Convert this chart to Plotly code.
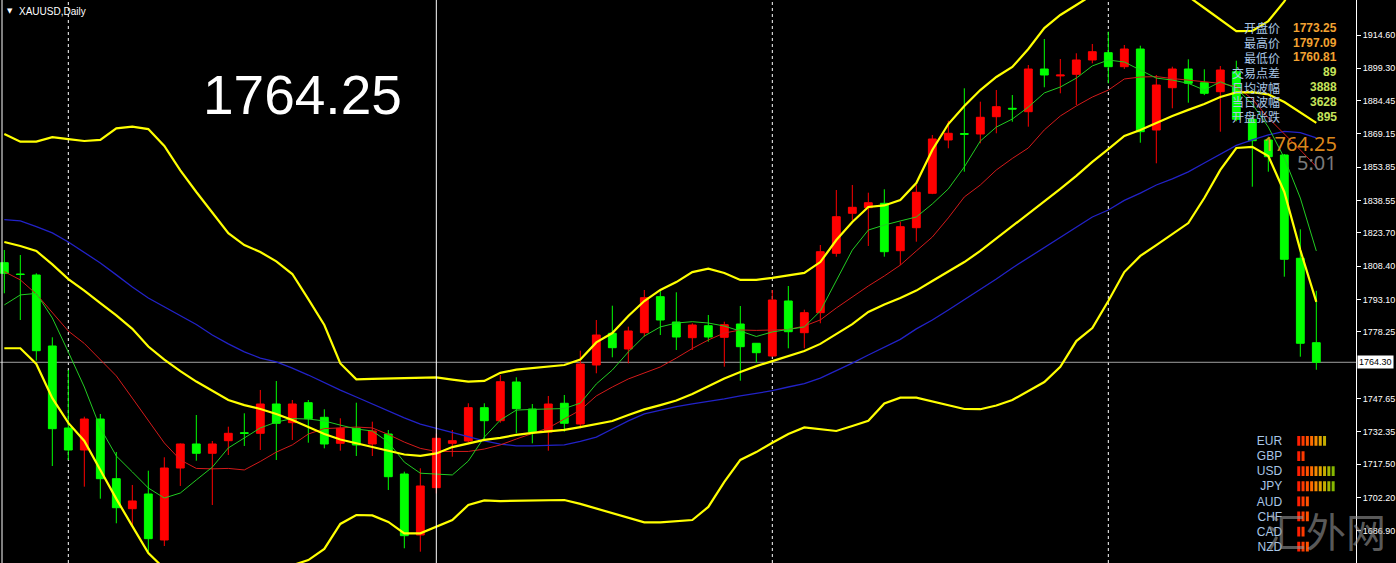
import plotly.graph_objects as go

# ---------------- data ----------------
bars = list(range(83))

open_ = [1810.00, 1804.80, 1804.35, 1771.74, 1734.07, 1723.96, 1738.20, 1710.78, 1697.00, 1703.75,
         1682.62, 1715.69, 1726.72, 1722.45, 1728.23, 1731.91, 1731.63, 1745.09, 1736.51, 1745.69,
         1738.98, 1727.04, 1733.93, 1726.72, 1731.31, 1712.94, 1684.92, 1706.65, 1727.04, 1728.10,
         1743.40, 1737.42, 1755.20, 1742.80, 1732.23, 1745.42, 1735.91, 1763.01, 1777.57, 1770.36,
         1777.85, 1794.39, 1782.76, 1775.55, 1781.06, 1775.73, 1781.84, 1772.98, 1767.14, 1792.41,
         1777.85, 1787.04, 1814.32, 1832.70, 1835.27, 1837.29, 1815.52, 1826.08, 1841.88, 1866.37,
         1869.30, 1869.12, 1877.07, 1880.93, 1879.37, 1898.98, 1895.80, 1896.55, 1903.12, 1906.47,
         1900.04, 1908.17, 1870.96, 1890.39, 1898.98, 1892.69, 1888.56, 1897.74, 1875.88, 1866.37,
         1859.48, 1812.03, 1773.25]
high = [1815.84, 1813.54, 1805.13, 1775.73, 1760.71, 1739.26, 1740.50, 1723.04, 1707.89, 1714.45,
        1720.61, 1727.00, 1740.04, 1728.10, 1734.67, 1740.82, 1751.53, 1755.66, 1746.93, 1746.93,
        1742.66, 1738.52, 1745.69, 1736.97, 1733.15, 1714.00, 1715.56, 1731.50, 1733.15, 1745.42,
        1745.42, 1758.42, 1757.36, 1745.09, 1748.77, 1749.23, 1769.58, 1783.68, 1790.25, 1780.60,
        1797.46, 1797.92, 1796.41, 1782.15, 1785.98, 1782.90, 1790.11, 1773.10, 1797.46, 1799.30,
        1788.42, 1818.13, 1843.40, 1845.70, 1842.16, 1843.72, 1828.84, 1845.70, 1868.67, 1875.23,
        1890.12, 1883.96, 1889.34, 1887.04, 1900.82, 1912.76, 1903.58, 1906.20, 1910.47, 1916.12,
        1910.01, 1909.69, 1896.23, 1900.04, 1903.44, 1898.85, 1900.36, 1902.80, 1877.85, 1867.89,
        1859.94, 1825.35, 1797.09]
low = [1795.95, 1783.68, 1764.99, 1716.61, 1719.37, 1707.11, 1701.59, 1690.29, 1688.73, 1677.25,
       1679.86, 1707.43, 1719.05, 1698.70, 1721.67, 1725.80, 1723.96, 1719.37, 1728.56, 1727.32,
       1724.74, 1723.64, 1721.21, 1721.21, 1705.59, 1678.81, 1677.25, 1704.00, 1720.89, 1727.50,
       1728.56, 1736.50, 1731.63, 1727.04, 1723.64, 1732.37, 1733.93, 1759.20, 1766.55, 1763.79,
       1776.00, 1776.79, 1769.90, 1769.90, 1773.71, 1762.23, 1755.80, 1764.07, 1766.80, 1770.68,
       1770.68, 1782.17, 1812.76, 1829.62, 1817.68, 1812.76, 1808.95, 1819.65, 1841.50, 1862.56,
       1851.81, 1864.85, 1869.45, 1874.77, 1872.48, 1890.58, 1887.82, 1882.45, 1901.60, 1892.41,
       1899.00, 1865.13, 1855.66, 1880.93, 1883.50, 1887.00, 1870.18, 1875.00, 1844.92, 1851.81,
       1803.57, 1766.82, 1760.81]
close = [1805.13, 1804.60, 1769.58, 1733.75, 1723.96, 1738.20, 1710.78, 1697.46, 1700.54, 1683.22,
         1715.69, 1726.72, 1722.45, 1726.72, 1731.63, 1731.60, 1745.09, 1736.23, 1745.09, 1738.34,
         1726.72, 1733.93, 1726.26, 1732.69, 1711.70, 1684.60, 1707.43, 1729.34, 1728.23, 1743.40,
         1737.42, 1755.34, 1742.94, 1732.23, 1745.09, 1736.23, 1763.47, 1776.79, 1770.96, 1778.63,
         1793.93, 1783.68, 1775.87, 1781.38, 1775.87, 1781.52, 1771.42, 1768.66, 1792.87, 1778.31,
         1787.04, 1815.06, 1831.13, 1835.45, 1837.57, 1815.06, 1826.54, 1842.34, 1866.83, 1869.45,
         1869.00, 1876.80, 1881.67, 1880.60, 1898.98, 1896.23, 1896.20, 1903.12, 1906.93, 1900.04,
         1908.17, 1870.18, 1891.63, 1898.98, 1892.41, 1887.82, 1898.52, 1875.88, 1866.05, 1858.70,
         1811.57, 1772.98, 1764.25]

bb_upper = [1869.1, 1865.6, 1865.6, 1867.7, 1866.8, 1865.9, 1866.4, 1871.7, 1872.5, 1871.4,
            1863.6, 1852.4, 1842.5, 1833.3, 1823.6, 1818.1, 1814.9, 1810.6, 1804.8, 1793.3,
            1781.4, 1763.7, 1756.4, 1756.6, 1756.7, 1756.9, 1757.0, 1757.3, 1756.3, 1755.4,
            1755.7, 1759.4, 1760.9, 1761.6, 1762.3, 1763.0, 1765.5, 1773.4, 1777.7, 1785.5,
            1792.4, 1797.5, 1801.1, 1805.7, 1807.3, 1805.3, 1802.1, 1802.1, 1803.0, 1804.1,
            1805.3, 1810.3, 1820.4, 1828.7, 1835.6, 1836.3, 1838.8, 1846.6, 1861.8, 1873.7,
            1882.0, 1889.3, 1895.3, 1899.9, 1908.2, 1917.8, 1923.8, 1928.4, 1933.0, 1934.5,
            1935.0, 1934.0, 1934.5, 1934.0, 1932.3, 1927.0, 1921.5, 1916.4, 1916.5, 1921.0,
            1930.0, 1942.6, 1956.4]
bb_mid = [1819.5, 1817.7, 1815.4, 1809.2, 1802.5, 1797.2, 1791.4, 1785.8, 1779.6, 1771.5,
          1765.5, 1760.2, 1755.4, 1751.3, 1746.9, 1744.6, 1742.8, 1740.5, 1737.7, 1734.5,
          1731.3, 1728.8, 1727.0, 1725.3, 1723.5, 1721.9, 1721.3, 1722.4, 1725.3, 1727.0,
          1728.6, 1729.5, 1730.9, 1731.8, 1732.5, 1733.2, 1734.5, 1735.9, 1737.3, 1740.0,
          1742.6, 1744.6, 1746.7, 1749.7, 1753.4, 1756.8, 1759.8, 1762.5, 1764.8, 1767.1,
          1769.4, 1772.7, 1777.3, 1781.8, 1787.4, 1790.8, 1793.8, 1797.2, 1801.6, 1806.0,
          1810.3, 1815.4, 1821.1, 1826.9, 1832.4, 1837.9, 1843.9, 1849.9, 1856.3, 1862.2,
          1868.2, 1871.0, 1874.2, 1877.4, 1880.2, 1882.9, 1886.1, 1888.2, 1888.4, 1887.3,
          1883.8, 1879.2, 1874.2]
bb_lower = [1770.7, 1770.7, 1763.5, 1747.8, 1736.4, 1728.1, 1714.8, 1701.5, 1689.0, 1676.6,
            1669.5, 1668.5, 1668.3, 1669.0, 1669.8, 1670.5, 1670.5, 1670.5, 1671.0, 1673.4,
            1678.5, 1690.0, 1694.1, 1693.9, 1690.9, 1685.7, 1685.7, 1688.6, 1691.8, 1698.7,
            1700.8, 1700.5, 1700.7, 1700.9, 1701.0, 1701.0, 1699.2, 1697.1, 1695.0, 1692.7,
            1690.7, 1690.7, 1691.4, 1691.8, 1697.8, 1709.3, 1719.4, 1723.0, 1727.3, 1731.3,
            1734.3, 1733.4, 1732.7, 1735.0, 1737.4, 1745.3, 1748.0, 1748.0, 1746.2, 1744.4,
            1742.8, 1742.7, 1744.4, 1746.9, 1751.1, 1755.2, 1762.2, 1774.0, 1780.0, 1792.4,
            1805.7, 1813.1, 1818.1, 1823.2, 1828.2, 1839.7, 1852.6, 1862.7, 1863.2, 1859.0,
            1842.5, 1815.8, 1792.0]
ma_fast = [1790.6, 1795.2, 1795.9, 1784.6, 1769.0, 1752.9, 1734.1, 1721.2, 1713.9, 1706.5,
           1701.9, 1704.2, 1710.2, 1716.1, 1724.9, 1729.5, 1734.1, 1736.8, 1738.4, 1738.2,
           1737.3, 1735.4, 1733.6, 1732.7, 1727.6, 1718.4, 1713.3, 1712.9, 1712.5, 1718.9,
           1729.9, 1737.7, 1742.3, 1742.6, 1742.8, 1743.0, 1745.5, 1754.3, 1760.7, 1769.0,
           1776.3, 1780.5, 1782.3, 1782.9, 1782.3, 1780.9, 1778.6, 1776.1, 1778.2, 1779.5,
           1780.5, 1787.8, 1802.1, 1815.8, 1825.0, 1827.3, 1829.2, 1831.0, 1837.0, 1843.9,
           1854.0, 1865.9, 1872.3, 1876.0, 1881.5, 1888.0, 1890.7, 1894.8, 1900.4, 1903.1,
           1902.2, 1898.5, 1894.8, 1893.9, 1892.4, 1889.3, 1893.1, 1890.1, 1882.9, 1872.3,
           1858.1, 1839.7, 1815.4]
ma_slow = [1805.9, 1802.1, 1795.6, 1786.9, 1778.6, 1772.9, 1765.3, 1758.0, 1747.8, 1737.3,
           1727.2, 1719.4, 1715.5, 1715.3, 1715.5, 1714.8, 1718.7, 1723.0, 1726.3, 1731.3,
           1733.8, 1734.1, 1734.5, 1734.1, 1731.1, 1727.6, 1724.7, 1723.3, 1723.2, 1723.3,
           1724.4, 1726.3, 1729.0, 1731.5, 1734.1, 1738.2, 1742.3, 1748.8, 1752.9, 1756.6,
           1759.3, 1762.1, 1766.2, 1770.6, 1774.5, 1777.7, 1779.1, 1778.9, 1779.1, 1779.3,
           1780.9, 1783.7, 1789.2, 1794.3, 1799.3, 1803.9, 1808.9, 1815.4, 1821.8, 1830.6,
           1840.2, 1845.7, 1852.6, 1857.9, 1862.7, 1871.0, 1877.4, 1882.0, 1886.1, 1889.3,
           1894.4, 1895.3, 1895.5, 1894.6, 1893.9, 1893.0, 1892.4, 1890.9, 1885.2, 1876.5,
           1869.2, 1861.8, 1854.1]
ma_long = [1829.8, 1829.2, 1826.6, 1823.7, 1819.5, 1814.9, 1809.9, 1804.4, 1798.8, 1793.8,
           1789.6, 1785.5, 1781.6, 1776.8, 1772.7, 1769.0, 1766.2, 1764.4, 1761.6, 1758.4,
           1754.8, 1751.5, 1748.3, 1745.1, 1741.9, 1738.7, 1735.9, 1733.9, 1732.2, 1729.9,
           1728.1, 1726.7, 1725.9, 1725.9, 1726.0, 1726.3, 1727.9, 1729.9, 1733.6, 1737.3,
           1740.5, 1742.3, 1743.9, 1745.1, 1746.2, 1747.4, 1748.8, 1749.9, 1751.2, 1752.9,
           1754.5, 1757.0, 1760.4, 1763.9, 1767.6, 1771.3, 1774.8, 1779.6, 1783.7, 1788.3,
           1792.9, 1797.9, 1802.5, 1807.6, 1812.2, 1817.2, 1821.8, 1826.4, 1831.0, 1834.2,
           1838.6, 1842.0, 1845.7, 1848.5, 1851.7, 1855.8, 1860.0, 1863.9, 1866.4, 1868.7,
           1870.3, 1869.8, 1867.3]

ytick_vals = [1914.60, 1899.30, 1884.45, 1869.15, 1853.85, 1838.55, 1823.70, 1808.40,
              1793.10, 1778.25, 1747.65, 1732.35, 1717.50, 1702.20, 1686.90, 1672.05]
ytick_text = ["%.2f" % v for v in ytick_vals]
y_range = [1672.05, 1930.68]
x_range = [-0.27, 84.48]

bid_price = 1764.25
bid_label = "1764.30"
separator_bars = [4, 48, 69]
marker_bar = 27

symbol_label = "XAUUSD,Daily"
big_price = "1764.25"
timer_text = "5:01"

info_labels = ["开盘价", "最高价", "最低价", "交易点差", "日均波幅", "当日波幅", "开盘张跌"]
info_values = ["1773.25", "1797.09", "1760.81", "89", "3888", "3628", "895"]

currencies = ["EUR", "GBP", "USD", "JPY", "AUD", "CHF", "CAD", "NZD"]
strength = [7, 2, 9, 9, 3, 3, 2, 3]

# ---------------- styles ----------------
W, H = 1396, 563
PLOT_W = 1356
BULL = "#ff0000"
BEAR = "#00ff00"
LABEL_BLUE = "#a9c6e6"
ORANGE = "#f2a231"
LIME = "#c6e45a"
seg_colors = ["#ff1e00", "#ff3a00", "#ff5200", "#ff6c00", "#f58a00", "#e0a300",
              "#c4ad00", "#a4b600", "#86b800"]


def px_x(px):
    return px / PLOT_W


def px_y(py):
    return 1 - py / H


fig = go.Figure()

fig.add_trace(go.Candlestick(
    x=bars, open=open_, high=high, low=low, close=close,
    increasing=dict(line=dict(color=BULL, width=1), fillcolor=BULL),
    decreasing=dict(line=dict(color=BEAR, width=1), fillcolor=BEAR),
    whiskerwidth=0, hoverinfo="skip", showlegend=False))

for vals, col, w in [(ma_long, "#2222c8", 1.3), (ma_slow, "#d41a1a", 1),
                     (ma_fast, "#22cc22", 1),
                     (bb_upper, "#ffff00", 2.2), (bb_mid, "#ffff00", 2.2),
                     (bb_lower, "#ffff00", 2.2)]:
    fig.add_trace(go.Scatter(x=bars, y=vals, mode="lines",
                             line=dict(color=col, width=w),
                             hoverinfo="skip", showlegend=False))

# currency strength panel
cx, cy, cc = [], [], []
for cur, n in zip(currencies, strength):
    for j in range(1, n + 1):
        cx.append(j)
        cy.append(cur)
        cc.append(seg_colors[j - 1])
fig.add_trace(go.Scatter(
    x=cx, y=cy, mode="markers", xaxis="x2", yaxis="y2",
    marker=dict(symbol="line-ns", size=7, line=dict(color=cc, width=3)),
    hoverinfo="skip", showlegend=False))

shapes = []
for b in separator_bars:
    shapes.append(dict(type="line", xref="x", yref="paper", x0=b, x1=b, y0=0, y1=1,
                       line=dict(color="#ffffff", width=1, dash="3px,3px"), layer="below"))
shapes.append(dict(type="line", xref="x", yref="paper", x0=marker_bar, x1=marker_bar,
                   y0=0, y1=1, line=dict(color="#ffffff", width=1), layer="above"))
shapes.append(dict(type="line", xref="paper", yref="y", x0=0, x1=1, y0=bid_price,
                   y1=bid_price, line=dict(color="#a0a0a0", width=1), layer="below"))
shapes.append(dict(type="line", xref="paper", yref="paper", x0=px_x(2), x1=px_x(2),
                   y0=0, y1=1, line=dict(color="#ffffff", width=1)))

ann = []
ann.append(dict(xref="paper", yref="y", x=1, y=bid_price, xanchor="left", yanchor="middle",
                text=bid_label, showarrow=False, bgcolor="#ffffff", borderpad=1, xshift=1,
                font=dict(family="Liberation Sans", size=9, color="#000000")))
ann.append(dict(xref="paper", yref="paper", x=px_x(10), y=px_y(11), xanchor="center",
                yanchor="middle", text="▼", showarrow=False,
                font=dict(family="DejaVu Sans", size=7, color="#ffffff")))
ann.append(dict(xref="paper", yref="paper", x=px_x(17), y=px_y(11.5), xanchor="left",
                yanchor="middle", text=symbol_label, showarrow=False,
                font=dict(family="Liberation Sans", size=10, color="#ffffff")))
ann.append(dict(xref="paper", yref="paper", x=px_x(302), y=px_y(95), xanchor="center",
                yanchor="middle", text=big_price, showarrow=False,
                font=dict(family="Liberation Sans", size=55, color="#ffffff")))
for i, (lab, val) in enumerate(zip(info_labels, info_values)):
    ry = px_y(27.7 + 14.83 * i)
    ann.append(dict(xref="paper", yref="paper", x=px_x(1282), y=ry, xanchor="right",
                    yanchor="middle", text=lab, showarrow=False,
                    font=dict(family="Noto Sans CJK SC", size=12, color=LABEL_BLUE)))
    ann.append(dict(xref="paper", yref="paper", x=px_x(1339), y=ry, xanchor="right",
                    yanchor="middle", text="<b>%s</b>" % val, showarrow=False,
                    font=dict(family="Liberation Sans", size=12,
                              color=ORANGE if i < 3 else LIME)))
ann.append(dict(xref="paper", yref="paper", x=px_x(1339), y=px_y(143.5), xanchor="right",
                yanchor="middle", text=big_price, showarrow=False,
                font=dict(family="Noto Sans", size=20, color="rgba(240,150,30,0.92)")))
ann.append(dict(xref="paper", yref="paper", x=px_x(1339), y=px_y(162.5), xanchor="right",
                yanchor="middle", text=timer_text, showarrow=False,
                font=dict(family="Noto Sans", size=20, color="#7a7a7a")))
ann.append(dict(xref="paper", yref="paper", x=px_x(1326), y=px_y(530), xanchor="center",
                yanchor="middle", text="汇外网", showarrow=False,
                font=dict(family="Noto Sans CJK SC", size=40, color="rgba(150,150,150,0.6)")))

fig.update_layout(
    width=W, height=H,
    margin=dict(l=0, r=W - PLOT_W, t=0, b=0, pad=0),
    paper_bgcolor="#000000", plot_bgcolor="#000000",
    showlegend=False, hovermode=False,
    xaxis=dict(range=x_range, visible=False, fixedrange=True,
               rangeslider=dict(visible=False)),
    yaxis=dict(range=y_range, side="right", tickmode="array", tickvals=ytick_vals,
               ticktext=ytick_text, ticks="outside", ticklen=4, tickcolor="#ffffff",
               showline=True, linecolor="#ffffff", linewidth=1, showgrid=False,
               zeroline=False, automargin=False, fixedrange=True,
               tickfont=dict(family="Liberation Sans", size=9, color="#ffffff")),
    xaxis2=dict(domain=[px_x(1296.6), px_x(1335.3)], range=[0.5, 9.5], visible=False,
                anchor="y2", fixedrange=True),
    yaxis2=dict(domain=[px_y(554.2), px_y(433.4)], anchor="x2", type="category",
                categoryorder="array", categoryarray=currencies, range=[7.5, -0.5],
                showgrid=False, zeroline=False, showline=False, ticks="outside",
                ticklen=11, tickcolor="rgba(0,0,0,0)", automargin=False, fixedrange=True,
                tickfont=dict(family="Liberation Sans", size=12, color=LABEL_BLUE)),
    shapes=shapes, annotations=ann,
)

fig.write_html("out.html", include_plotlyjs=True, config={"displayModeBar": False},
               post_script="document.body.style.margin='0';document.body.style.background='#000';document.body.style.overflow='hidden';")
